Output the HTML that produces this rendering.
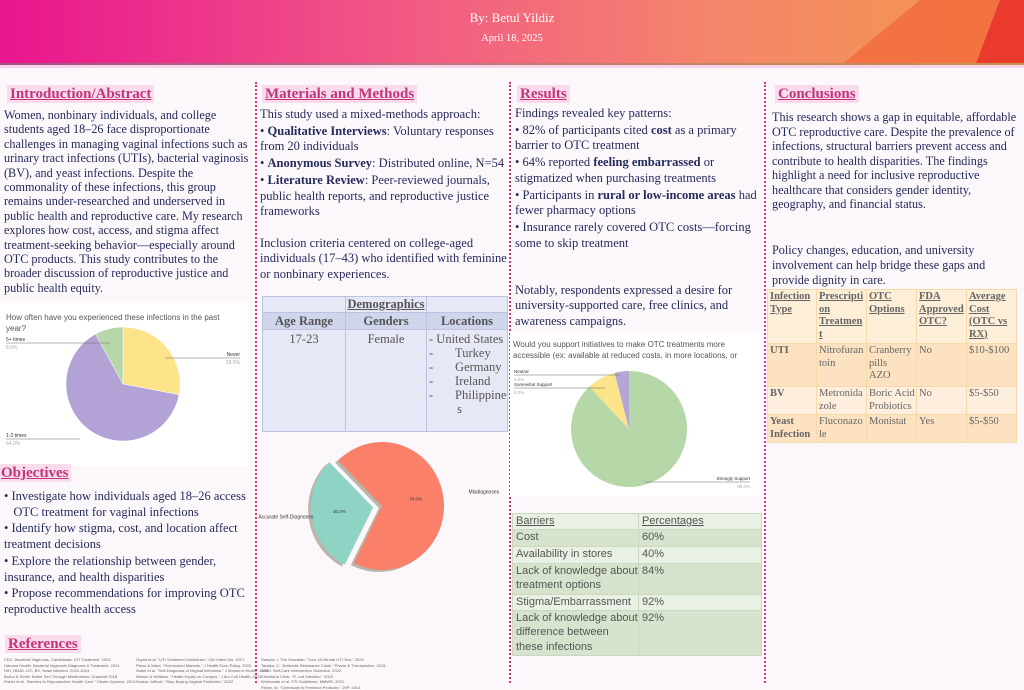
<!DOCTYPE html>
<html><head><meta charset="utf-8">
<style>
*{margin:0;padding:0;box-sizing:border-box}
body{width:1024px;height:683px;overflow:hidden;background:#fcf7fa;font-family:"Liberation Serif",serif;color:#252b5c;position:relative}
.hdr{position:absolute;left:0;top:0;width:1024px;height:68px;background:linear-gradient(90deg,#e9158f 0%,#f15a84 40%,#f4866b 70%,#f5984c 100%);overflow:hidden}
.hdr .band{position:absolute;left:0;top:63px;width:1024px;height:2px;background:linear-gradient(90deg,#a45088,#c07a78,#c8944b)}
.hdr .band2{position:absolute;left:0;top:65px;width:1024px;height:3px;background:#f9d3ea}
.col-line{position:absolute;top:82px;height:601px;border-left:2px dotted #d6347f}
.h{position:absolute;font-weight:bold;font-size:15px;color:#c3357b;text-decoration:underline;background:#f9dcec;padding:0 3px;line-height:18px;white-space:nowrap}
.t{position:absolute;font-size:12.5px;line-height:15.7px;white-space:nowrap}
.b{font-weight:bold}
table{border-collapse:collapse;position:absolute;table-layout:fixed}
td{white-space:nowrap;overflow:hidden}
.ref{position:absolute;font-family:"Liberation Sans",sans-serif;font-size:4px;line-height:5.5px;color:#666;white-space:nowrap}
</style></head><body>
<div class="hdr">
 <svg width="1024" height="68" style="position:absolute;left:0;top:0">
  <polygon points="920,0 1024,0 1024,66 840,66" fill="#f26a3c" opacity=".8"/>
  <polygon points="1000,0 1024,0 1024,66 975,66" fill="#ea3a2e"/>
 </svg>
 <div class="band"></div><div class="band2"></div>
 <div style="position:absolute;left:0;width:1024px;top:10px;text-align:center;color:#fff;font-size:13px">By: Betul Yildiz</div>
 <div style="position:absolute;left:0;width:1024px;top:33px;text-align:center;color:#fff;font-size:10.5px">April 18, 2025</div>
</div>

<div class="col-line" style="left:255px"></div>
<div class="col-line" style="left:509px"></div>
<div class="col-line" style="left:764px"></div>

<!-- Column 1 -->
<div class="h" style="left:7px;top:85px">Introduction/Abstract</div>
<div class="t" style="left:4px;top:108px;font-size:12.2px;line-height:14.4px">Women, nonbinary individuals, and college<br>students aged 18–26 face disproportionate<br>challenges in managing vaginal infections such as<br>urinary tract infections (UTIs), bacterial vaginosis<br>(BV), and yeast infections. Despite the<br>commonality of these infections, this group<br>remains under-researched and underserved in<br>public health and reproductive care. My research<br>explores how cost, access, and stigma affect<br>treatment-seeking behavior—especially around<br>OTC products. This study contributes to the<br>broader discussion of reproductive justice and<br>public health equity.</div>

<svg id="pie1" style="position:absolute;left:0;top:303px;background:#fff" width="248" height="163"></svg>

<div class="h" style="left:-2px;top:464px">Objectives</div>
<div class="t" style="left:4px;top:489px">• Investigate how individuals aged 18–26 access<br>&nbsp;&nbsp;&nbsp;OTC treatment for vaginal infections<div style="height:1px"></div>• Identify how stigma, cost, and location affect<br>treatment decisions<div style="height:1px"></div>• Explore the relationship between gender,<br>insurance, and health disparities<div style="height:1px"></div>• Propose recommendations for improving OTC<br>reproductive health access</div>

<div class="h" style="left:5px;top:635px">References</div>
<div class="ref" style="left:4px;top:657px">CDC. Bacterial Vaginosis, Candidiasis, UTI Treatment. 2023.<br>Harvard Health. Bacterial Vaginosis Diagnosis &amp; Treatment. 2021.<br>NIH, NIAID. UTI, BV, Yeast Infection. 2022-2024.<br>Borho &amp; Smith. Better Sex Through Mindfulness. Graywolf 2018.<br>Fisher et al. "Barriers to Reproductive Health Care." Obstet Gynecol. 2013.</div>
<div class="ref" style="left:136px;top:657px">Gupta et al. "UTI Treatment Guidelines." Clin Infect Dis. 2017.<br>Plano &amp; Ward. "Overlooked Markets." J Health Econ Policy. 2020.<br>Sobel et al. "Self-Diagnosis of Vaginal Infections." J Women's Health. 1996.<br>Nelson &amp; Williams. "Health Equity on Campus." J Am Coll Health. 2021.<br>Gustav Jeffcott. "Stop Buying Vaginal Probiotics." 2022.</div>
<div class="ref" style="left:261px;top:657px">Sample, I. The Guardian. "Your 45-Minute UTI Test." 2024.<br>Tanaka, C. "Antibiotic Resistance Crisis." Pharm &amp; Therapeutics. 2015.<br>WHO. Self-Care Intervention Guideline. 2022.<br>Cleveland Clinic. "E. coli Infection." 2023.<br>Workowski et al. STI Guidelines. MMWR. 2021.<br>Fisher, M. "Chemicals in Feminine Products." JHP. 2014.</div>

<!-- Column 2 -->
<div class="h" style="left:262px;top:85px">Materials and Methods</div>
<div class="t" style="left:260px;top:107px">This study used a mixed-methods approach:<div style="height:1px"></div>• <span class="b">Qualitative Interviews</span>: Voluntary responses<br>from 20 individuals<div style="height:1px"></div>• <span class="b">Anonymous Survey</span>: Distributed online, N=54<div style="height:1px"></div>• <span class="b">Literature Review</span>: Peer-reviewed journals,<br>public health reports, and reproductive justice<br>frameworks<br><br>Inclusion criteria centered on college-aged<br>individuals (17–43) who identified with feminine<br>or nonbinary experiences.</div>

<table style="left:262px;top:296px;width:246px;height:136px;font-size:12.5px;color:#555;background:#e6e9f5;text-align:center">
 <tr style="height:16px"><td style="border:1px solid #bcc3e0;width:83px"></td><td style="border:1px solid #bcc3e0;width:81px;font-weight:bold;text-decoration:underline">Demographics</td><td style="border:1px solid #bcc3e0"></td></tr>
 <tr style="height:17px;background:#cfd5ea;font-weight:bold"><td style="border:1px solid #bcc3e0">Age Range</td><td style="border:1px solid #bcc3e0">Genders</td><td style="border:1px solid #bcc3e0">Locations</td></tr>
 <tr style="vertical-align:top"><td style="border:1px solid #bcc3e0;padding-top:2px">17-23</td><td style="border:1px solid #bcc3e0;padding-top:2px">Female</td><td style="border:1px solid #bcc3e0;text-align:left;padding:2px 2px;line-height:14px">- United States<br>-&nbsp;&nbsp;&nbsp;&nbsp;&nbsp;&nbsp;&nbsp;Turkey<br>-&nbsp;&nbsp;&nbsp;&nbsp;&nbsp;&nbsp;&nbsp;Germany<br>-&nbsp;&nbsp;&nbsp;&nbsp;&nbsp;&nbsp;&nbsp;Ireland<br>-&nbsp;&nbsp;&nbsp;&nbsp;&nbsp;&nbsp;&nbsp;Philippine<br>&nbsp;&nbsp;&nbsp;&nbsp;&nbsp;&nbsp;&nbsp;&nbsp;&nbsp;s</td></tr>
</table>

<svg id="pie2" style="position:absolute;left:258px;top:440px" width="250" height="145"></svg>

<!-- Column 3 -->
<div class="h" style="left:517px;top:85px">Results</div>
<div class="t" style="left:515px;top:106px">Findings revealed key patterns:<div style="height:1px"></div>• 82% of participants cited <span class="b">cost</span> as a primary<br>barrier to OTC treatment<div style="height:1px"></div>• 64% reported <span class="b">feeling embarrassed</span> or<br>stigmatized when purchasing treatments<div style="height:1px"></div>• Participants in <span class="b">rural or low-income areas</span> had<br>fewer pharmacy options<div style="height:1px"></div>• Insurance rarely covered OTC costs—forcing<br>some to skip treatment<br><br><br>Notably, respondents expressed a desire for<br>university-supported care, free clinics, and<br>awareness campaigns.</div>

<svg id="pie3" style="position:absolute;left:510px;top:333px;background:#fff" width="252" height="163"></svg>

<table style="left:512px;top:513px;width:250px;font-family:'Liberation Sans',sans-serif;font-size:11px;color:#555;line-height:14.5px">
 <tr style="background:#e9f0e4;height:15px"><td style="width:126px;padding:0 3px;border:1px solid #c9d8bf;text-decoration:underline">Barriers</td><td style="padding:0 3px;border:1px solid #c9d8bf;text-decoration:underline">Percentages</td></tr>
 <tr style="background:#d7e4cd;height:17px"><td style="padding:0 3px;border:1px solid #c9d8bf">Cost</td><td style="padding:0 3px;border:1px solid #c9d8bf">60%</td></tr>
 <tr style="background:#e9f0e4;height:17px"><td style="padding:0 3px;border:1px solid #c9d8bf">Availability in stores</td><td style="padding:0 3px;border:1px solid #c9d8bf">40%</td></tr>
 <tr style="background:#d7e4cd;vertical-align:top;height:31px"><td style="padding:0 3px;border:1px solid #c9d8bf">Lack of knowledge about<br>treatment options</td><td style="padding:0 3px;border:1px solid #c9d8bf">84%</td></tr>
 <tr style="background:#e9f0e4;height:16px"><td style="padding:0 3px;border:1px solid #c9d8bf">Stigma/Embarrassment</td><td style="padding:0 3px;border:1px solid #c9d8bf">92%</td></tr>
 <tr style="background:#d7e4cd;vertical-align:top;height:45px"><td style="padding:0 3px;border:1px solid #c9d8bf">Lack of knowledge about<br>difference between<br>these infections</td><td style="padding:0 3px;border:1px solid #c9d8bf">92%</td></tr>
</table>

<!-- Column 4 -->
<div class="h" style="left:775px;top:85px">Conclusions</div>
<div class="t" style="left:772px;top:110px;font-size:12.2px;line-height:14.5px">This research shows a gap in equitable, affordable<br>OTC reproductive care. Despite the prevalence of<br>infections, structural barriers prevent access and<br>contribute to health disparities. The findings<br>highlight a need for inclusive reproductive<br>healthcare that considers gender identity,<br>geography, and financial status.</div>
<div class="t" style="left:772px;top:243px;font-size:12.2px;line-height:15px">Policy changes, education, and university<br>involvement can help bridge these gaps and<br>provide dignity in care.</div>

<table style="left:767px;top:289px;width:250px;font-size:10.5px;color:#666;line-height:12.5px">
 <tr style="background:#fdeed8;vertical-align:top;height:54px;font-weight:bold;text-decoration:underline"><td style="width:49px;padding:1px 2px;border:1px solid #f6d9a8">Infection<br>Type</td><td style="width:50px;padding:1px 2px;border:1px solid #f6d9a8">Prescripti<br>on<br>Treatmen<br>t</td><td style="width:50px;padding:1px 2px;border:1px solid #f6d9a8">OTC<br>Options</td><td style="width:50px;padding:1px 2px;border:1px solid #f6d9a8">FDA<br>Approved<br>OTC?</td><td style="padding:1px 2px;border:1px solid #f6d9a8">Average<br>Cost<br>(OTC vs<br>RX)</td></tr>
 <tr style="background:#fde2c2;vertical-align:top;height:43px"><td class="b" style="padding:1px 2px;border:1px solid #f6d9a8">UTI</td><td style="padding:1px 2px;border:1px solid #f6d9a8">Nitrofuran<br>toin</td><td style="padding:1px 2px;border:1px solid #f6d9a8">Cranberry<br>pills<br>AZO</td><td style="padding:1px 2px;border:1px solid #f6d9a8">No</td><td style="padding:1px 2px;border:1px solid #f6d9a8">$10-$100</td></tr>
 <tr style="background:#fdeedd;vertical-align:top;height:28px"><td class="b" style="padding:1px 2px;border:1px solid #f6d9a8">BV</td><td style="padding:1px 2px;border:1px solid #f6d9a8">Metronida<br>zole</td><td style="padding:1px 2px;border:1px solid #f6d9a8">Boric Acid<br>Probiotics</td><td style="padding:1px 2px;border:1px solid #f6d9a8">No</td><td style="padding:1px 2px;border:1px solid #f6d9a8">$5-$50</td></tr>
 <tr style="background:#fde2c2;vertical-align:top;height:27px"><td class="b" style="padding:1px 2px;border:1px solid #f6d9a8">Yeast<br>Infection</td><td style="padding:1px 2px;border:1px solid #f6d9a8">Fluconazo<br>le</td><td style="padding:1px 2px;border:1px solid #f6d9a8">Monistat</td><td style="padding:1px 2px;border:1px solid #f6d9a8">Yes</td><td style="padding:1px 2px;border:1px solid #f6d9a8">$5-$50</td></tr>
</table>

<script>
const pie1Labels = ["Never", "1-2 times", "5+ times"];
const pie1Values = [28, 64, 8];
const pie1Colors = ["#fde38a", "#b3a2d6", "#b7d7a8"];
const pie2Labels = ["Misdiagnoses", "Accurate Self-Diagnoses"];
const pie2Values = [70, 30];
const pie2Colors = ["#fa8069", "#8fd3c4"];
const pie3Labels = ["Strongly Support", "Somewhat Support", "Neutral"];
const pie3Values = [88, 8, 4];
const pie3Colors = ["#b6d7a8", "#fde38a", "#b4a7d6"];
const NS = "http://www.w3.org/2000/svg";

function mk(svg, tag, attrs) {
  const e = document.createElementNS(NS, tag);
  for (const k in attrs) e.setAttribute(k, attrs[k]);
  svg.appendChild(e);
  return e;
}
function pt(cx, cy, rx, ry, deg) {
  const a = (deg - 90) * Math.PI / 180;
  return [cx + rx * Math.cos(a), cy + ry * Math.sin(a)];
}
function slicePath(cx, cy, rx, ry, a0, a1) {
  const p0 = pt(cx, cy, rx, ry, a0), p1 = pt(cx, cy, rx, ry, a1);
  const large = (a1 - a0) > 180 ? 1 : 0;
  return `M${cx},${cy} L${p0[0]},${p0[1]} A${rx},${ry} 0 ${large} 1 ${p1[0]},${p1[1]} Z`;
}
function txt(svg, x, y, s, size, fill, anchor, name) {
  const t = mk(svg, "text", {x: x, y: y, "font-size": size, fill: fill, "text-anchor": anchor || "start", "font-family": "Liberation Sans, sans-serif"});
  t.textContent = s;
  
  
  return t;
}

// Pie 1
(function(){
  const svg = document.getElementById("pie1");
  txt(svg, 6, 17, "How often have you experienced these infections in the past", 8, "#555", "start", "pie1-title");
  txt(svg, 6, 28, "year?", 8, "#555", "start", "pie1-title-2");
  const total = pie1Values.reduce((a,b)=>a+b,0);
  const cx = 123, cy = 81, r = 57;
  let a = 0;
  pie1Values.forEach((v,i) => {
    const a1 = a + v / total * 360;
    const p = mk(svg, "path", {d: slicePath(cx, cy, r, r, a, a1), fill: pie1Colors[i], stroke: "#fff", "stroke-width": 0.5});
    
    
    a = a1;
  });
  const lbl = [[240, 53, "end", 164], [6, 134, "start", 80], [6, 38, "start", 110]];
  pie1Labels.forEach((s,i) => {
    const L = lbl[i];
    mk(svg, "line", {x1: L[0] === 240 ? 165 : 6, y1: L[1]+2, x2: L[0] === 240 ? 240 : L[3], y2: L[1]+2, stroke: "#666", "stroke-width": .5});
    txt(svg, L[0], L[1], s, 5, "#333", L[2], "pie1-label-" + i);
    txt(svg, L[0], L[1]+8, pie1Values[i].toFixed(1) + "%", 5, "#aaa", L[2], "pie1-pct-" + i);
  });
})();

// Pie 2 (exploded)
(function(){
  const svg = document.getElementById("pie2");
  const total = pie2Values.reduce((a,b)=>a+b,0);
  const cx = 124, cy = 66, rx = 62, ry = 64;
  let start = 315;
  pie2Values.forEach((v,i) => {
    const span = v / total * 360;
    const a0 = start, a1 = start + span;
    const mid = (a0 + a1) / 2;
    const off = i === 1 ? 9 : 0;
    const o = pt(0, 0, off, off, mid);
    const sh = mk(svg, "path", {d: slicePath(cx + o[0] - 3, cy + o[1] + 2, rx, ry, a0, a1), fill: "#8a8a7a", opacity: .6});
    
    
    const p = mk(svg, "path", {d: slicePath(cx + o[0], cy + o[1], rx, ry, a0, a1), fill: pie2Colors[i]});
    
    
    const lp = pt(cx + o[0], cy + o[1], rx * 0.55, ry * 0.55, mid);
    txt(svg, lp[0], lp[1], v.toFixed(1) + "%", 4.5, "#333", "middle", "pie2-pct-" + i);
    const tp = pt(cx, cy, rx * 1.25, ry * 1.25, mid);
    txt(svg, i === 0 ? tp[0] + 10 : tp[0] + 8, tp[1], pie2Labels[i], 5, "#333", i === 0 ? "start" : "end", "pie2-label-" + i);
    start = a1 >= 360 ? a1 - 360 : a1;
  });
})();

// Pie 3
(function(){
  const svg = document.getElementById("pie3");
  txt(svg, 3, 14, "Would you support initiatives to make OTC treatments more", 8, "#555", "start", "pie3-title");
  txt(svg, 3, 25, "accessible (ex: available at reduced costs, in more locations, or", 8, "#555", "start", "pie3-title-2");
  const total = pie3Values.reduce((a,b)=>a+b,0);
  const cx = 119, cy = 96, r = 58;
  let a = 0;
  pie3Values.forEach((v,i) => {
    const a1 = a + v / total * 360;
    const p = mk(svg, "path", {d: slicePath(cx, cy, r, r, a, a1), fill: pie3Colors[i]});
    
    
    a = a1;
  });
  const lbl = [[240, 147, "end"], [4, 53, "start"], [4, 40, "start"]];
  pie3Labels.forEach((s,i) => {
    const L = lbl[i];
    mk(svg, "line", {x1: i === 0 ? 135 : 4, y1: L[1]+2, x2: i === 0 ? 240 : (i === 1 ? 95 : 110), y2: L[1]+2, stroke: "#666", "stroke-width": .5});
    txt(svg, L[0], L[1], s, 4.5, "#333", L[2], "pie3-label-" + i);
    txt(svg, L[0], L[1]+8, pie3Values[i].toFixed(1) + "%", 4.5, "#aaa", L[2], "pie3-pct-" + i);
  });
})();
</script>
</body></html>
